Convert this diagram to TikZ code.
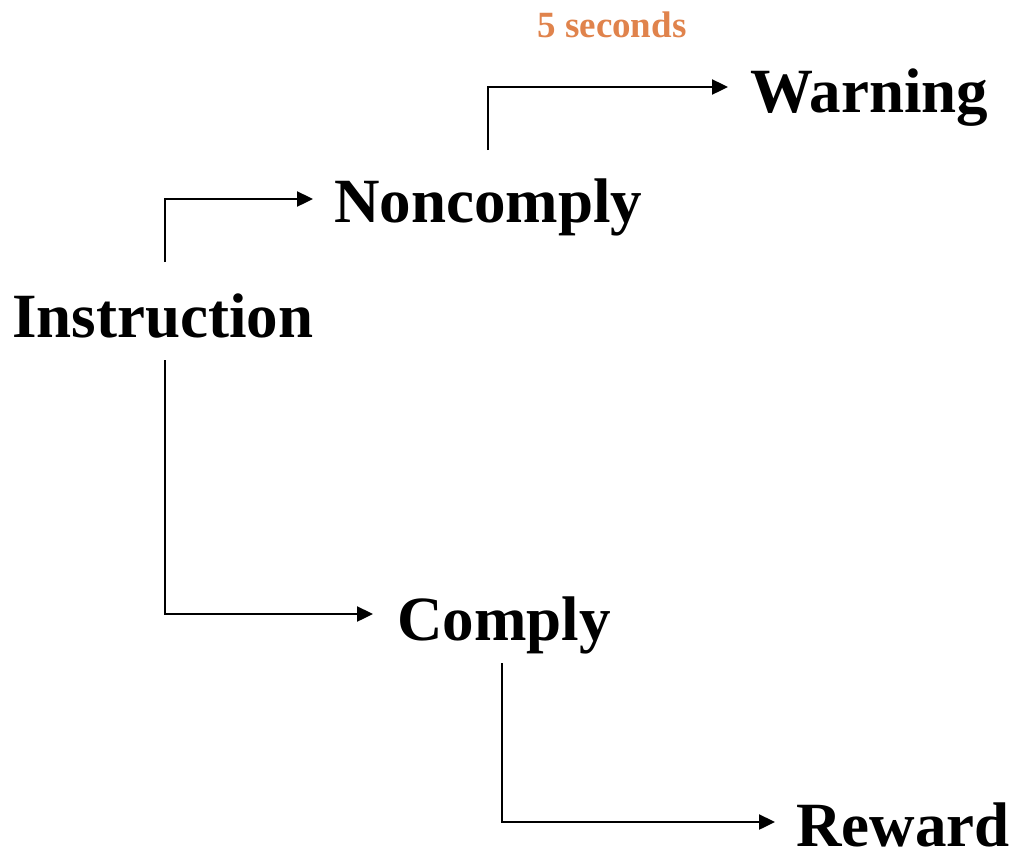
\documentclass[tikz,border=0pt]{standalone}
\usepackage{fontspec}
\setmainfont{Liberation Serif}
\usetikzlibrary{arrows.meta}
\definecolor{delayorange}{RGB}{224,131,76}
\begin{document}
\begin{tikzpicture}[x=1pt,y=-1pt,
  stage/.style={inner sep=0pt, anchor=base west, font=\fontsize{63}{70}\selectfont\bfseries},
  timing/.style={inner sep=0pt, anchor=base, text=delayorange, font=\fontsize{37}{42}\selectfont\bfseries},
  flow/.style={line width=2.4pt, -{Triangle[length=16pt,width=15pt]}}]
\useasboundingbox (0,0) rectangle (1014,852);

% behaviour stages
\node[stage] (inst)   at (12,337)  {Instruction};
\node[stage] (nonc)   at (334,222) {Noncomply};
\node[stage] (warn)   at (750,112) {Warning};
\node[stage] (comply) at (397,640) {Comply};
\node[stage] (reward) at (796,846) {Reward};

% delay before the warning
\node[timing] (delay) at (612,37) {5 seconds};

% elbow connectors between stages
\draw[flow] ([xshift=2pt,yshift=75pt]inst.base) |- ([xshift=-21pt,yshift=23pt]nonc.base west);
\draw[flow] ([xshift=2pt,yshift=-23pt]inst.base) |- ([xshift=-24pt,yshift=26pt]comply.base west);
\draw[flow] ([yshift=72pt]nonc.base) |- ([xshift=-22pt,yshift=25pt]warn.base west);
\draw[flow] ([xshift=-2pt,yshift=-23pt]comply.base) |- ([xshift=-21pt,yshift=24pt]reward.base west);
\end{tikzpicture}
\end{document}
